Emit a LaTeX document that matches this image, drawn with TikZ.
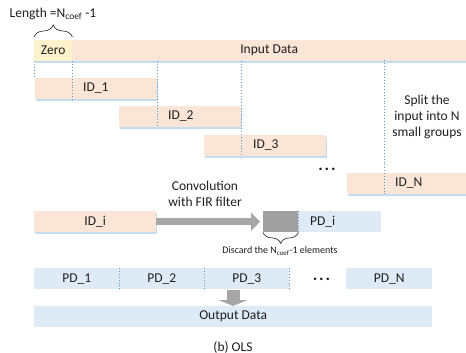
\documentclass[tikz,border=0pt]{standalone}
\usepackage{fontspec}
\setmainfont{Carlito}
\usetikzlibrary{decorations.pathreplacing,arrows.meta,calc,shadows}

\definecolor{peach}{RGB}{251,229,214}
\definecolor{zerofill}{RGB}{255,242,204}
\definecolor{pdblue}{RGB}{222,235,247}
\definecolor{shblue}{RGB}{197,220,240}
\definecolor{dotblue}{RGB}{91,155,213}
\definecolor{arrgray}{RGB}{166,166,166}
\definecolor{boxgray}{RGB}{160,160,160}
\definecolor{txt}{RGB}{30,30,30}

\tikzset{
  box/.style={rectangle, inner sep=0pt, anchor=north west, minimum height=21pt,
              font=\fontsize{13.5}{16}\selectfont, text=txt},
  inbox/.style={box, fill=peach,
                drop shadow={shadow xshift=0.6pt, shadow yshift=-1.4pt, fill=shblue, opacity=1}},
  outbox/.style={box, fill=pdblue},
  label/.style={inner sep=0pt, font=\fontsize{13.5}{16}\selectfont, text=txt},
  smalllabel/.style={inner sep=0pt, font=\fontsize{10}{12}\selectfont, text=txt},
  ellipsis/.style={inner sep=0pt, font=\fontsize{17}{17}\selectfont\bfseries, text=txt},
  sep/.style={draw=dotblue, dotted, line width=0.9pt},
  curly/.style={draw=txt, line width=0.6pt, decorate,
                decoration={brace, amplitude=#1}},
  fatarrow/.style={draw=arrgray, line width=7.5pt,
                   -{Triangle[width=18pt,length=9pt]}},
  downarrow/.style={draw=arrgray, line width=13pt,
                    -{Triangle[width=29pt,length=6pt]}},
}

\begin{document}
\begin{tikzpicture}[x=1pt,y=-1pt]
\useasboundingbox (0,0) rectangle (466,353);

% input stream with its leading zeros
\node[box, fill=zerofill, minimum width=38pt,
      drop shadow={shadow xshift=0.6pt, shadow yshift=-1.4pt, fill=shblue, opacity=1}]
      (zero) at (34,40) {Zero};
\node[inbox, minimum width=394pt] (input) at (72,40) {Input Data};

\node[label] (lenlab) at (53,14) {Length =N\textsubscript{coef} -1};
\draw[curly=12pt] (zero.south west |- 0,37) coordinate (bl) -- (zero.south east |- 0,37) coordinate (br);

% overlapping input blocks
\node[inbox, minimum width=122pt] (id1) at (35,78) {};
\node[inbox, minimum width=122pt] (id2) at (119,106) {};
\node[inbox, minimum width=122pt] (id3) at (204,135) {};
\node[inbox, minimum width=119pt] (idN) at (347,173) {};

\node[label, anchor=west] (t1) at (83,88.5) {ID\_1};
\node[label, anchor=west] (t2) at (168,116.5) {ID\_2};
\node[label, anchor=west] (t3) at (253,145.5) {ID\_3};
\node[label, anchor=west] (tN) at (395,183.5) {ID\_N};

\node[ellipsis] (dots1) at (327,169) {.\kern1.8pt.\kern1.8pt.};
\node[label, align=center] (split) at (427,117) {Split the\\input into N\\small groups};

% dotted split marks
\draw[sep] (zero.south west) -- (zero.south west |- id1.north);
\draw[sep] (zero.south east) -- (zero.south east |- id1.south);
\draw[sep] (id1.south east |- input.south) -- (id1.south east |- id2.south);
\draw[sep] (id2.south east |- input.south) -- (id2.south east |- id3.south);
\coordinate (nmark) at (384,60);
\draw[sep] (nmark) -- (nmark |- idN.south);

% one block through the filter
\node[inbox, minimum width=122pt] (idi) at (34,211) {ID\_i};
\node[label, align=center] (conv) at (205,193.5) {Convolution\\with FIR filter};
\node[box, fill=boxgray, minimum width=35pt] (gray) at (263,211) {};
\node[outbox, minimum width=83pt] (pdi) at (298,211) {};
\node[label, anchor=west] (tpdi) at (310,221.5) {PD\_i};
\draw[sep] (gray.north east) -- (gray.south east);
\draw[fatarrow] (idi.east) -- ($(gray.west)+(-3,0)$);

\draw[curly=11pt] (gray.south east) -- (gray.south west);
\node[smalllabel] (disc) at (280,251) {Discard the N\textsubscript{coef}-1 elements};

% output blocks
\node[outbox, minimum width=85pt] (pd1) at (34,268) {PD\_1};
\node[outbox, minimum width=85pt] (pd2) at (119,268) {PD\_2};
\node[outbox, minimum width=85pt] (pd3) at (204,268) {PD\_3};
\node[outbox, minimum width=86pt] (pdN) at (346,268) {PD\_N};
\node[ellipsis] (dots2) at (321.5,279) {.\kern1.8pt.\kern1.8pt.};
\draw[sep] (pd1.north east) -- (pd1.south east);
\draw[sep] (pd2.north east) -- (pd2.south east);
\draw[sep] (pd3.north east) -- (pd3.south east);

\node[outbox, minimum width=398pt] (outp) at (34,306) {Output Data};
\coordinate (dtop) at (233,289.5);
\draw[downarrow] (dtop) -- (dtop |- outp.north);

\node[label] (cap) at (233,347) {(b) OLS};
\end{tikzpicture}
\end{document}
